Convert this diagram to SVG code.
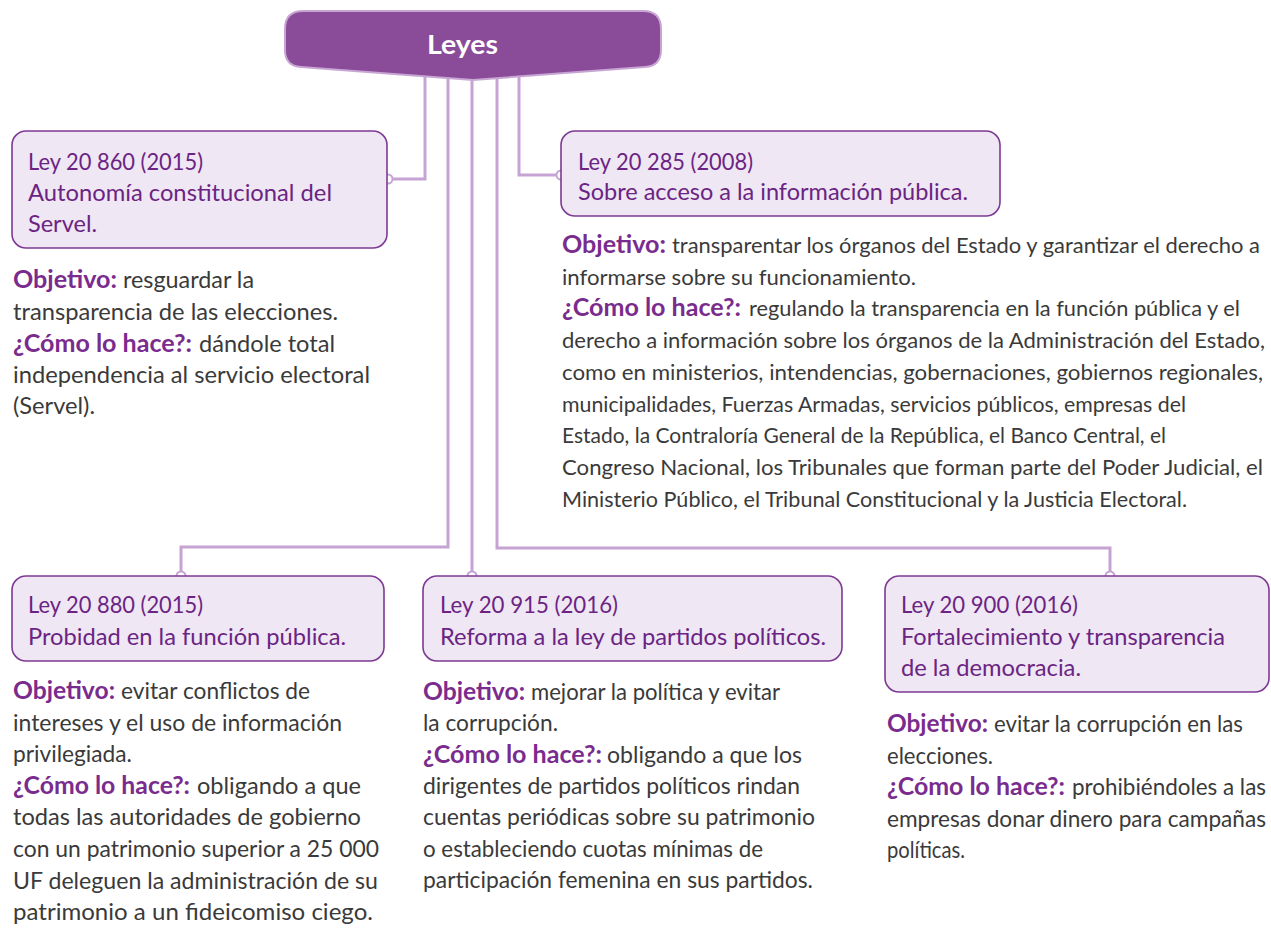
<svg xmlns="http://www.w3.org/2000/svg" width="1271" height="928" viewBox="0 0 1271 928">
<style>
text{font-family:Lato,"Open Sans","Liberation Sans",sans-serif;font-size:24px}
.ti{fill:#6B2483}
.bd{fill:#3A3A3A}
.nr{font-size:21.5px}
.sm{font-size:23px}
.lb{fill:#7A2C8E;font-weight:bold}
.box{fill:#EFE7F4;stroke:#7D3A92;stroke-width:1.6}
.conn{fill:none;stroke:#C5A4D3;stroke-width:3}
.dot{fill:#fff;stroke:#C5A4D3;stroke-width:2}
.hd{fill:#8A4B99;stroke:#C8A6D4;stroke-width:2}
.hdt{fill:#fff;font-weight:bold;font-size:27px}
</style>
<rect width="1271" height="928" fill="#fff"/>
<g id="connectors">
<path class="conn" d="M425 72 V179 H390"/>
<path class="conn" d="M448 74 V547 H181 V572"/>
<path class="conn" d="M472 78 V572"/>
<path class="conn" d="M497 75 V548 H1110 V572"/>
<path class="conn" d="M519 72 V175 H556"/>
<circle class="dot" cx="388" cy="179" r="4.5"/>
<circle class="dot" cx="181" cy="576" r="4.5"/>
<circle class="dot" cx="472" cy="576" r="4.5"/>
<circle class="dot" cx="1110" cy="576" r="4.5"/>
<circle class="dot" cx="561" cy="175" r="4.5"/>
</g>
<g id="leyes">
<path class="hd" d="M303 11 H643 Q661 11 661 29 V50 Q661 66 645 67 L473 80 L301 67 Q285 66 285 50 V29 Q285 11 303 11 Z"/>
<text class="hdt" x="427" y="54" textLength="71" lengthAdjust="spacingAndGlyphs">Leyes</text>
</g>
<g id="ley20860">
<rect class="box" x="12" y="131" width="375" height="117" rx="14"/>
<text class="ti" x="28" y="170" textLength="175" lengthAdjust="spacingAndGlyphs">Ley 20 860 (2015)</text>
<text class="ti" x="28" y="201" textLength="304" lengthAdjust="spacingAndGlyphs">Autonomía constitucional del</text>
<text class="ti" x="28" y="232" textLength="69" lengthAdjust="spacingAndGlyphs">Servel.</text>
<text class="lb" x="13" y="288" textLength="104" lengthAdjust="spacingAndGlyphs">Objetivo:</text>
<text class="bd" x="123" y="288" textLength="131" lengthAdjust="spacingAndGlyphs">resguardar la</text>
<text class="bd" x="13" y="320" textLength="325" lengthAdjust="spacingAndGlyphs">transparencia de las elecciones.</text>
<text class="lb" x="13" y="352" textLength="179" lengthAdjust="spacingAndGlyphs">¿Cómo lo hace?:</text>
<text class="bd" x="199" y="352" textLength="136" lengthAdjust="spacingAndGlyphs">dándole total</text>
<text class="bd" x="13" y="383" textLength="357" lengthAdjust="spacingAndGlyphs">independencia al servicio electoral</text>
<text class="bd" x="13" y="414" textLength="82" lengthAdjust="spacingAndGlyphs">(Servel).</text>
</g>
<g id="ley20285">
<rect class="box" x="561" y="131" width="439" height="85" rx="14"/>
<text class="ti" x="578" y="170" textLength="175" lengthAdjust="spacingAndGlyphs">Ley 20 285 (2008)</text>
<text class="ti" x="578" y="200" textLength="390" lengthAdjust="spacingAndGlyphs">Sobre acceso a la información pública.</text>
<text class="lb" x="562" y="253" textLength="104" lengthAdjust="spacingAndGlyphs">Objetivo:</text>
<text class="bd nr" x="672" y="253" textLength="588" lengthAdjust="spacingAndGlyphs">transparentar los órganos del Estado y garantizar el derecho a</text>
<text class="bd nr" x="562" y="284.7" textLength="354" lengthAdjust="spacingAndGlyphs">informarse sobre su funcionamiento.</text>
<text class="lb" x="562" y="316.4" textLength="179" lengthAdjust="spacingAndGlyphs">¿Cómo lo hace?:</text>
<text class="bd nr" x="749" y="316.4" textLength="491" lengthAdjust="spacingAndGlyphs">regulando la transparencia en la función pública y el</text>
<text class="bd nr" x="562" y="348" textLength="703" lengthAdjust="spacingAndGlyphs">derecho a información sobre los órganos de la Administración del Estado,</text>
<text class="bd nr" x="562" y="380" textLength="701" lengthAdjust="spacingAndGlyphs">como en ministerios, intendencias, gobernaciones, gobiernos regionales,</text>
<text class="bd nr" x="562" y="411.5" textLength="624" lengthAdjust="spacingAndGlyphs">municipalidades, Fuerzas Armadas, servicios públicos, empresas del</text>
<text class="bd nr" x="562" y="443" textLength="604" lengthAdjust="spacingAndGlyphs">Estado, la Contraloría General de la República, el Banco Central, el</text>
<text class="bd nr" x="562" y="475" textLength="701" lengthAdjust="spacingAndGlyphs">Congreso Nacional, los Tribunales que forman parte del Poder Judicial, el</text>
<text class="bd nr" x="562" y="506.5" textLength="625" lengthAdjust="spacingAndGlyphs">Ministerio Público, el Tribunal Constitucional y la Justicia Electoral.</text>
</g>
<g id="ley20880">
<rect class="box" x="12" y="576" width="372" height="85" rx="14"/>
<text class="ti" x="28" y="613" textLength="175" lengthAdjust="spacingAndGlyphs">Ley 20 880 (2015)</text>
<text class="ti" x="28" y="645" textLength="318" lengthAdjust="spacingAndGlyphs">Probidad en la función pública.</text>
<text class="lb" x="13" y="699" textLength="102" lengthAdjust="spacingAndGlyphs">Objetivo:</text>
<text class="bd" x="121" y="699" textLength="189" lengthAdjust="spacingAndGlyphs">evitar conflictos de</text>
<text class="bd" x="13" y="730.6" textLength="329" lengthAdjust="spacingAndGlyphs">intereses y el uso de información</text>
<text class="bd" x="13" y="762.2" textLength="119" lengthAdjust="spacingAndGlyphs">privilegiada.</text>
<text class="lb" x="13" y="793.8" textLength="177" lengthAdjust="spacingAndGlyphs">¿Cómo lo hace?:</text>
<text class="bd" x="197" y="793.8" textLength="164" lengthAdjust="spacingAndGlyphs">obligando a que</text>
<text class="bd" x="13" y="825.4" textLength="348" lengthAdjust="spacingAndGlyphs">todas las autoridades de gobierno</text>
<text class="bd" x="13" y="857" textLength="366" lengthAdjust="spacingAndGlyphs">con un patrimonio superior a 25 000</text>
<text class="bd" x="13" y="888.6" textLength="365" lengthAdjust="spacingAndGlyphs">UF deleguen la administración de su</text>
<text class="bd" x="13" y="920" textLength="360" lengthAdjust="spacingAndGlyphs">patrimonio a un fideicomiso ciego.</text>
</g>
<g id="ley20915">
<rect class="box" x="423" y="576" width="419" height="85" rx="14"/>
<text class="ti" x="440" y="613" textLength="178" lengthAdjust="spacingAndGlyphs">Ley 20 915 (2016)</text>
<text class="ti" x="440" y="645" textLength="386" lengthAdjust="spacingAndGlyphs">Reforma a la ley de partidos políticos.</text>
<text class="lb" x="423" y="700" textLength="102" lengthAdjust="spacingAndGlyphs">Objetivo:</text>
<text class="bd" x="531" y="700" textLength="249" lengthAdjust="spacingAndGlyphs">mejorar la política y evitar</text>
<text class="bd" x="423" y="731.3" textLength="135" lengthAdjust="spacingAndGlyphs">la corrupción.</text>
<text class="lb" x="423" y="762.6" textLength="179" lengthAdjust="spacingAndGlyphs">¿Cómo lo hace?:</text>
<text class="bd" x="607" y="762.6" textLength="195" lengthAdjust="spacingAndGlyphs">obligando a que los</text>
<text class="bd" x="423" y="793.9" textLength="377" lengthAdjust="spacingAndGlyphs">dirigentes de partidos políticos rindan</text>
<text class="bd" x="423" y="825.2" textLength="392" lengthAdjust="spacingAndGlyphs">cuentas periódicas sobre su patrimonio</text>
<text class="bd" x="423" y="856.5" textLength="340" lengthAdjust="spacingAndGlyphs">o estableciendo cuotas mínimas de</text>
<text class="bd" x="423" y="887.8" textLength="390" lengthAdjust="spacingAndGlyphs">participación femenina en sus partidos.</text>
</g>
<g id="ley20900">
<rect class="box" x="885" y="576" width="384" height="116" rx="14"/>
<text class="ti" x="901" y="613" textLength="177" lengthAdjust="spacingAndGlyphs">Ley 20 900 (2016)</text>
<text class="ti" x="901" y="645" textLength="324" lengthAdjust="spacingAndGlyphs">Fortalecimiento y transparencia</text>
<text class="ti" x="901" y="676" textLength="180" lengthAdjust="spacingAndGlyphs">de la democracia.</text>
<text class="lb" x="887" y="732" textLength="101" lengthAdjust="spacingAndGlyphs">Objetivo:</text>
<text class="bd" x="994" y="732" textLength="249" lengthAdjust="spacingAndGlyphs">evitar la corrupción en las</text>
<text class="bd" x="887" y="763.5" textLength="106" lengthAdjust="spacingAndGlyphs">elecciones.</text>
<text class="lb" x="887" y="795" textLength="178" lengthAdjust="spacingAndGlyphs">¿Cómo lo hace?:</text>
<text class="bd sm" x="1072" y="795" textLength="194" lengthAdjust="spacingAndGlyphs">prohibiéndoles a las</text>
<text class="bd sm" x="887" y="826.5" textLength="379" lengthAdjust="spacingAndGlyphs">empresas donar dinero para campañas</text>
<text class="bd" x="887" y="858" textLength="78" lengthAdjust="spacingAndGlyphs">políticas.</text>
</g>
</svg>
